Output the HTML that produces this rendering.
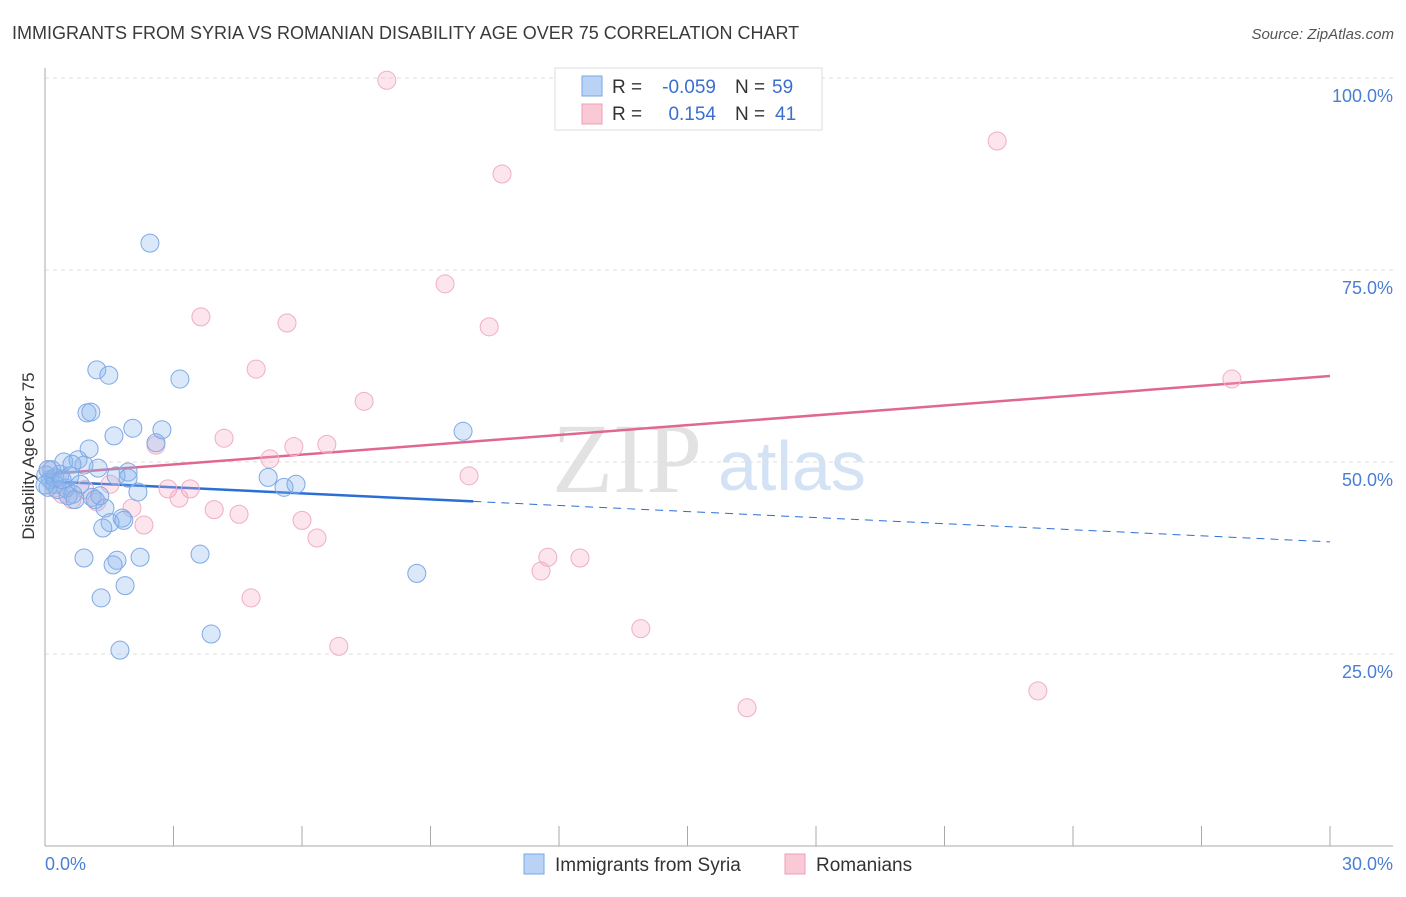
<!DOCTYPE html>
<html><head><meta charset="utf-8"><style>
body{margin:0;background:#fff;font-family:"Liberation Sans",sans-serif}
svg text{font-family:"Liberation Sans",sans-serif}
</style></head><body>
<svg id="chart" width="1406" height="892" xmlns="http://www.w3.org/2000/svg">
<text x="12" y="39" font-size="18" fill="#3a3a3a">IMMIGRANTS FROM SYRIA VS ROMANIAN DISABILITY AGE OVER 75 CORRELATION CHART</text>
<text x="1394" y="39" font-size="15" fill="#555" font-style="italic" text-anchor="end">Source: ZipAtlas.com</text>
<text x="34" y="456" font-size="17" fill="#333" text-anchor="middle" transform="rotate(-90 34 456)">Disability Age Over 75</text>
<g>
<text x="552" y="492" font-size="100" fill="#e2e2e2" style="font-family:'Liberation Serif',serif">ZIP</text>
<text x="718" y="490" font-size="70" fill="#d3e2f5">atlas</text>
</g>
<g id="grid"></g><g id="axes"></g><g id="trends"></g><g id="pts"></g>
<g>
<rect x="555" y="68" width="267" height="62" fill="#fff" stroke="#ddd"/>
<rect x="582" y="76" width="20" height="20" fill="#b8d3f5" stroke="#7aa7e2"/>
<rect x="582" y="104" width="20" height="20" fill="#f9c9d6" stroke="#eb9fb7"/>
<text x="612" y="93" font-size="19" fill="#333">R =</text>
<text x="716" y="93" font-size="19" fill="#3a6fd0" text-anchor="end">-0.059</text>
<text x="735" y="93" font-size="19" fill="#333">N =</text>
<text x="772" y="93" font-size="19" fill="#3a6fd0">59</text>
<text x="612" y="120" font-size="19" fill="#333">R =</text>
<text x="716" y="120" font-size="19" fill="#3a6fd0" text-anchor="end">0.154</text>
<text x="735" y="120" font-size="19" fill="#333">N =</text>
<text x="775" y="120" font-size="19" fill="#3a6fd0">41</text>
</g>
<g>
<rect x="524" y="854" width="20" height="20" fill="#b8d3f5" stroke="#7aa7e2"/>
<text x="555" y="871" font-size="19" fill="#333">Immigrants from Syria</text>
<rect x="785" y="854" width="20" height="20" fill="#f9c9d6" stroke="#eb9fb7"/>
<text x="816" y="871" font-size="19" fill="#333">Romanians</text>
</g>
</svg>
<script>
const xTicks=[0,3,6,9,12,15,18,21,24,27,30];
const yTicks=[25,50,75,100];
const yTickLabels=["25.0%","50.0%","75.0%","100.0%"];
const xTickLabels=["0.0%","30.0%"];
const syriaX=[2.45,1.21,1.49,3.15,0.98,1.07,1.61,2.05,2.73,2.59,1.03,0.44,0.77,1.24,0.91,0.63,0.16,0.35,0.58,1.66,1.94,1.94,0.12,0.23,0.07,0.49,0.82,0.30,0.65,1.10,1.17,0.54,2.17,5.21,5.58,5.86,9.76,1.40,1.80,1.52,1.35,0.91,1.68,1.59,2.22,3.62,1.87,1.31,8.68,3.88,1.75,0.02,0.23,0.40,0.07,0.0,1.28,1.84,0.70];
const syriaY=[78.5,62.0,61.3,60.8,56.4,56.5,53.4,54.4,54.2,52.5,51.7,50.0,50.3,49.2,49.6,49.7,49.0,48.4,48.2,48.2,48.7,47.9,47.7,47.1,46.7,46.6,47.1,46.4,45.8,45.4,45.1,45.6,46.1,48.0,46.7,47.1,54.0,44.0,42.7,42.1,41.4,37.5,37.2,36.6,37.6,38.0,33.9,32.3,35.5,27.6,25.5,48.3,47.9,47.7,49.0,47.0,45.6,42.4,45.1];
const romX=[7.98,16.62,22.23,10.67,9.34,3.64,5.65,10.37,4.93,27.71,7.45,4.18,2.59,5.81,6.58,5.25,9.90,1.52,2.87,3.39,3.13,1.21,2.03,3.95,4.53,6.00,2.31,6.35,11.74,12.49,11.58,4.81,13.91,6.86,23.18,16.39,0.07,0.23,0.40,0.63,0.93];
const romY=[99.7,99.7,91.8,87.5,73.2,68.9,68.1,67.6,62.1,60.8,57.9,53.1,52.2,52.0,52.3,50.4,48.2,47.1,46.5,46.5,45.3,44.8,44.0,43.8,43.2,42.4,41.8,40.1,37.6,37.5,35.8,32.3,28.3,26.0,20.2,18.0,49.0,46.6,45.8,45.1,46.4];
const syriaTrend=[47.5,39.6];const syriaSolidEnd=10;
const romTrend=[48.4,61.2];
const NS="http://www.w3.org/2000/svg";
const X=v=>45+v/30*1285, Y=v=>846-v/100*768;
function mk(p,t,a){const e=document.createElementNS(NS,t);for(const k in a)e.setAttribute(k,a[k]);p.appendChild(e);return e;}
const grid=document.getElementById('grid'),axes=document.getElementById('axes');
yTicks.forEach((t,i)=>{
 const l=mk(grid,'line',{x1:45,x2:1393,y1:Y(t),y2:Y(t),stroke:'#ddd','stroke-dasharray':'4,4'});
 
 
 const tx=mk(axes,'text',{x:1393,y:Y(t)+24,'font-size':18,fill:'#4a7fd4','text-anchor':'end'});tx.textContent=yTickLabels[i];
 
 
});
mk(axes,'line',{x1:45,x2:45,y1:68,y2:846,stroke:'#aaa'});
mk(axes,'line',{x1:45,x2:1393,y1:846,y2:846,stroke:'#aaa'});
xTicks.forEach(t=>{const l=mk(axes,'line',{x1:X(t),x2:X(t),y1:826,y2:846,stroke:'#aaa'});
 
 });
const t0=mk(axes,'text',{x:45,y:870,'font-size':18,fill:'#4a7fd4'});t0.textContent=xTickLabels[0];


const t1=mk(axes,'text',{x:1393,y:870,'font-size':18,fill:'#4a7fd4','text-anchor':'end'});t1.textContent=xTickLabels[1];


const pts=document.getElementById('pts');
romX.forEach((v,i)=>{const c=mk(pts,'circle',{cx:X(v),cy:Y(romY[i]),r:9,fill:'rgba(245,170,195,0.3)',stroke:'#f0aec3','stroke-width':1});
 
 });
syriaX.forEach((v,i)=>{const c=mk(pts,'circle',{cx:X(v),cy:Y(syriaY[i]),r:9,fill:'rgba(140,185,240,0.32)',stroke:'#7ea9e4','stroke-width':1});
 
 });
const tr=document.getElementById('trends');
const sy=x=>syriaTrend[0]+(syriaTrend[1]-syriaTrend[0])*x/30;
let a=mk(tr,'line',{x1:X(0),y1:Y(sy(0)),x2:X(syriaSolidEnd),y2:Y(sy(syriaSolidEnd)),stroke:'#2a6fd6','stroke-width':2.5});


a=mk(tr,'line',{x1:X(syriaSolidEnd),y1:Y(sy(syriaSolidEnd)),x2:X(30),y2:Y(sy(30)),stroke:'#2a6fd6','stroke-width':1,'stroke-dasharray':'8,6'});


a=mk(tr,'line',{x1:X(0),y1:Y(romTrend[0]),x2:X(30),y2:Y(romTrend[1]),stroke:'#e06890','stroke-width':2.5});


</script>
</body></html>
